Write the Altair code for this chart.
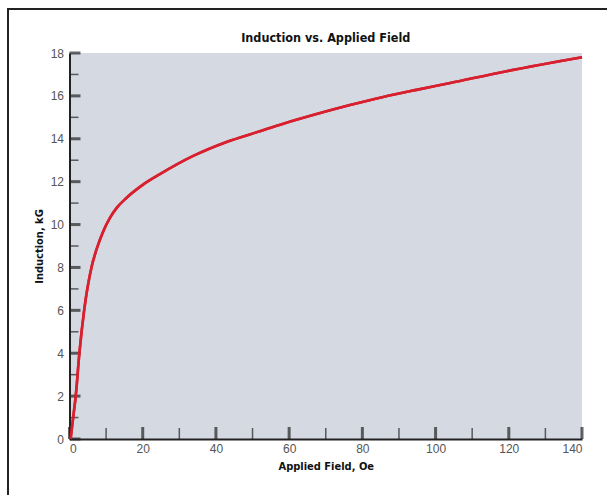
import altair as alt
import pandas as pd

# Curve values
field_oe = [0.3, 1.0, 1.7, 2.7, 4.0, 6.0, 7.5, 9.0, 11.0, 13.0, 15.6, 20.0, 24.7, 33.8,
            42.9, 52.0, 58.4, 67.5, 76.6, 85.7, 94.8, 104.0, 119.4, 140.0]
induction_kg = [0.0, 1.0, 2.0, 4.0, 6.0, 8.0, 8.9, 9.6, 10.3, 10.8, 11.25, 11.85, 12.35, 13.2,
                13.85, 14.35, 14.7, 15.15, 15.57, 15.95, 16.28, 16.6, 17.15, 17.8]

x_major = [0, 20, 40, 60, 80, 100, 120, 140]
x_minor = [10, 30, 50, 70, 90, 110, 130]
y_major = [0, 2, 4, 6, 8, 10, 12, 14, 16, 18]
y_minor = [1, 3, 5, 7, 9, 11, 13, 15, 17]
title_text = ["Induction vs. Applied Field"]

W, H = 512.5, 386
label_font = "Liberation Sans"
bold_font = "'Liberation Sans Narrow', 'DejaVu Sans Condensed', 'Roboto Condensed', sans-serif"

xs = alt.Scale(domain=[0, 140], nice=False, zero=False)
ys = alt.Scale(domain=[0, 18], nice=False, zero=False)

curve_df = pd.DataFrame({"H": field_oe, "B": induction_kg})

curve = alt.Chart(curve_df).mark_line(
    color="#d8202f", strokeWidth=2.6, interpolate="monotone"
).encode(
    x=alt.X("H:Q", scale=xs, title="Applied Field, Oe",
            axis=alt.Axis(values=x_major, ticks=False, grid=False, domainColor="#222",
                          domainWidth=2, labelFont=label_font, labelFontSize=12,
                          labelColor="#555", labelPadding=4,
                          titleFont=bold_font, titleFontSize=11, titleFontWeight="bold",
                          titleColor="#111", titlePadding=6)),
    y=alt.Y("B:Q", scale=ys, title="Induction, kG",
            axis=alt.Axis(values=y_major, ticks=False, grid=False, domainColor="#222",
                          domainWidth=2, labelFont=label_font, labelFontSize=12,
                          labelColor="#555", labelPadding=6,
                          titleFont=bold_font, titleFontSize=11, titleFontWeight="bold",
                          titleColor="#111", titlePadding=6)),
)

xmaj = alt.Chart(pd.DataFrame({"v": x_major})).mark_tick(
    color="#222", thickness=3, size=12, orient="vertical"
).encode(x=alt.X("v:Q", scale=xs), y=alt.value(H - 6))
xmin = alt.Chart(pd.DataFrame({"v": x_minor})).mark_tick(
    color="#222", thickness=1.5, size=11, orient="vertical"
).encode(x=alt.X("v:Q", scale=xs), y=alt.value(H - 5.5))
ymaj = alt.Chart(pd.DataFrame({"v": y_major})).mark_tick(
    color="#222", thickness=3, size=11, orient="horizontal"
).encode(y=alt.Y("v:Q", scale=ys), x=alt.value(5.5))
ymin = alt.Chart(pd.DataFrame({"v": y_minor})).mark_tick(
    color="#222", thickness=1.5, size=9, orient="horizontal"
).encode(y=alt.Y("v:Q", scale=ys), x=alt.value(4.5))

title = alt.Chart(pd.DataFrame({"t": title_text})).mark_text(
    font=bold_font, fontSize=12.5, fontWeight="bold", color="#111", align="center",
    baseline="middle"
).encode(text="t:N", x=alt.value(W / 2), y=alt.value(-15))

frame_top = alt.Chart(pd.DataFrame({"a": [0]})).mark_rule(
    color="#222", strokeWidth=2
).encode(x=alt.value(-61.5), x2=alt.value(540), y=alt.value(-44))
frame_left = alt.Chart(pd.DataFrame({"a": [0]})).mark_rule(
    color="#222", strokeWidth=2
).encode(x=alt.value(-61.5), y=alt.value(-45), y2=alt.value(445))

chart = alt.layer(
    curve, xmin, xmaj, ymin, ymaj, curve, title, frame_top, frame_left
).properties(
    width=W, height=H,
    background="white",
    autosize=alt.AutoSizeParams(type="none"),
    padding={"left": 69.5, "top": 53, "right": 24.5, "bottom": 56},
).configure_view(
    fill="#d4d9e2", strokeWidth=0
)

chart.save("out.html", embed_options={"renderer": "svg", "actions": False})
